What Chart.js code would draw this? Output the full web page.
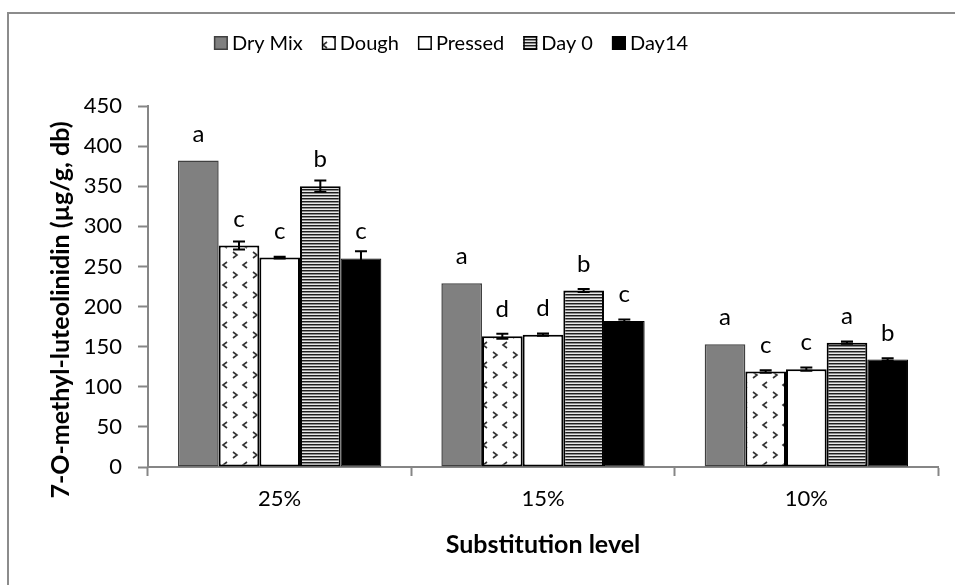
<!DOCTYPE html>
<html>
<head>
<meta charset="utf-8">
<script src="https://cdn.jsdelivr.net/npm/chart.js@4.4.1/dist/chart.umd.min.js"></script>
<style>
  html, body { margin: 0; padding: 0; background: #fff; }
  #wrap { width: 955px; height: 585px; position: relative; }
</style>
</head>
<body>
<div id="wrap"><canvas id="chart" width="955" height="585"></canvas></div>
<script>
// substitution levels on the x axis
const levels = ['25%', '15%', '10%'];
const seriesNames = ['Dry Mix', 'Dough', 'Pressed', 'Day 0', 'Day14'];

// 7-O-methyl-luteolinidin, µg/g db
const dryMix  = [382, 229, 153];
const dough   = [276, 163, 119];
const pressed = [261, 165, 122];
const day0    = [350, 220, 155];
const day14   = [260, 182, 134];

// standard deviations
const dryMixErr  = [0, 0, 0];
const doughErr   = [5, 3, 1.5];
const pressedErr = [1, 1.5, 2];
const day0Err    = [7, 2, 1.5];
const day14Err   = [9, 2, 1.5];

// significance letters
const dryMixSig  = ['a', 'a', 'a'];
const doughSig   = ['c', 'd', 'c'];
const pressedSig = ['c', 'd', 'c'];
const day0Sig    = ['b', 'b', 'a'];
const day14Sig   = ['c', 'c', 'b'];

const yTicks = [0, 50, 100, 150, 200, 250, 300, 350, 400, 450];

const FONT = 'Lato, "Open Sans", sans-serif';
const AXIS_GREY = '#868686';

// ---- fill patterns ----
function chevronPattern() {
  const c = document.createElement('canvas');
  c.width = 20; c.height = 20;
  const g = c.getContext('2d');
  g.fillStyle = '#fff';
  g.fillRect(0, 0, 20, 20);
  g.strokeStyle = '#333';
  g.lineWidth = 1.6;
  g.beginPath();
  g.moveTo(7, 2); g.lineTo(3, 5); g.lineTo(7, 8);      // "<"
  g.moveTo(13, 12); g.lineTo(17, 15); g.lineTo(13, 18); // ">"
  g.stroke();
  return g.createPattern(c, 'repeat');
}

function stripePattern() {
  const c = document.createElement('canvas');
  c.width = 4; c.height = 3;
  const g = c.getContext('2d');
  ['#1e1e1e', '#8a8a8a', '#e8e8e8'].forEach((col, i) => {
    g.fillStyle = col;
    g.fillRect(0, i, 4, 1);
  });
  return g.createPattern(c, 'repeat');
}

const styles = [
  { bg: '#808080', border: '#404040', width: 1.5 },
  { bg: chevronPattern(), border: '#000', width: 2 },
  { bg: '#ffffff', border: '#000', width: 2 },
  { bg: stripePattern(), border: '#000', width: 2 },
  { bg: '#000000', border: '#000', width: 1 }
];
const values  = [dryMix, dough, pressed, day0, day14];
const errors  = [dryMixErr, doughErr, pressedErr, day0Err, day14Err];
const letters = [dryMixSig, doughSig, pressedSig, day0Sig, day14Sig];

const datasets = seriesNames.map((name, i) => ({
  label: name,
  data: values[i],
  errors: errors[i],
  letters: letters[i],
  backgroundColor: styles[i].bg,
  borderColor: styles[i].border,
  borderWidth: styles[i].width,
  borderSkipped: false
}));

// ---- plugins ----
const frame = {
  id: 'frame',
  beforeDraw(chart) {
    const ctx = chart.ctx;
    ctx.save();
    ctx.fillStyle = '#fff';
    ctx.fillRect(0, 0, chart.width, chart.height);
    ctx.strokeStyle = '#8c8c8c';
    ctx.lineWidth = 2;
    ctx.beginPath();
    ctx.moveTo(8, chart.height);
    ctx.lineTo(8, 13);
    ctx.lineTo(chart.width, 13);
    ctx.stroke();
    ctx.restore();
  }
};

const errorBars = {
  id: 'errorBars',
  afterDatasetsDraw(chart) {
    const ctx = chart.ctx;
    const y = chart.scales.y;
    ctx.save();
    ctx.strokeStyle = '#000';
    ctx.lineWidth = 2;
    chart.data.datasets.forEach((ds, i) => {
      chart.getDatasetMeta(i).data.forEach((bar, j) => {
        const e = ds.errors[j];
        if (!e) return;
        const top = y.getPixelForValue(ds.data[j] + e);
        const bot = y.getPixelForValue(ds.data[j] - e);
        ctx.beginPath();
        ctx.moveTo(bar.x, top); ctx.lineTo(bar.x, bot);
        ctx.moveTo(bar.x - 6, top); ctx.lineTo(bar.x + 6, top);
        ctx.moveTo(bar.x - 6, bot); ctx.lineTo(bar.x + 6, bot);
        ctx.stroke();
      });
    });
    ctx.restore();
  }
};

const sigLetters = {
  id: 'sigLetters',
  afterDatasetsDraw(chart) {
    const ctx = chart.ctx;
    ctx.save();
    ctx.fillStyle = '#000';
    ctx.font = '24px ' + FONT;
    ctx.textAlign = 'center';
    ctx.textBaseline = 'alphabetic';
    chart.data.datasets.forEach((ds, i) => {
      chart.getDatasetMeta(i).data.forEach((bar, j) => {
        ctx.fillText(ds.letters[j], bar.x, bar.y - 19);
      });
    });
    ctx.restore();
  }
};

const legendRow = {
  id: 'legendRow',
  afterDraw(chart) {
    const ctx = chart.ctx;
    const box = 14, gap = 4, spacing = 19, cy = 43;
    ctx.save();
    ctx.font = '20px ' + FONT;
    ctx.textBaseline = 'middle';
    const widths = chart.data.datasets.map(ds => ctx.measureText(ds.label).width);
    const total = widths.reduce((a, w) => a + box + gap + w, 0) + spacing * (widths.length - 1);
    let x = 451 - total / 2;
    chart.data.datasets.forEach((ds, i) => {
      ctx.fillStyle = ds.backgroundColor;
      ctx.fillRect(x, cy - box / 2, box, box);
      ctx.strokeStyle = ds.borderColor;
      ctx.lineWidth = 1.5;
      ctx.strokeRect(x + 0.75, cy - box / 2 + 0.75, box - 1.5, box - 1.5);
      ctx.fillStyle = '#000';
      ctx.fillText(ds.label, x + box + gap, cy + 1);
      x += box + gap + widths[i] + spacing;
    });
    ctx.restore();
  }
};

const axisTitles = {
  id: 'axisTitles',
  afterDraw(chart) {
    const ctx = chart.ctx;
    const a = chart.chartArea;
    ctx.save();
    ctx.fillStyle = '#000';
    ctx.font = 'bold 25px ' + FONT;
    ctx.textAlign = 'center';
    ctx.textBaseline = 'middle';
    ctx.fillText('Substitution level', (a.left + a.right) / 2, 545);
    ctx.translate(61, 310);
    ctx.rotate(-Math.PI / 2);
    ctx.fillText('7-O-methyl-luteolinidin (\u00b5g/g, db)', 0, 0);
    ctx.restore();
  }
};

new Chart(document.getElementById('chart'), {
  type: 'bar',
  data: { labels: levels, datasets },
  options: {
    responsive: false,
    animation: false,
    devicePixelRatio: 1,
    layout: { padding: { left: 8, top: 106, right: 17, bottom: 0 } },
    datasets: { bar: { categoryPercentage: 0.772, barPercentage: 1 } },
    plugins: { legend: { display: false }, tooltip: { enabled: false } },
    scales: {
      x: {
        grid: { drawOnChartArea: false, tickLength: 9, tickColor: AXIS_GREY, tickWidth: 2, offset: true },
        border: { color: AXIS_GREY, width: 2 },
        ticks: { color: '#000', font: { family: FONT, size: 22 }, padding: 10 },
        afterFit(s) { s.height = 118; }
      },
      y: {
        min: 0,
        max: 450,
        afterBuildTicks(s) { s.ticks = yTicks.map(v => ({ value: v })); },
        grid: { drawOnChartArea: false, tickLength: 10, tickColor: AXIS_GREY, tickWidth: 2 },
        border: { color: AXIS_GREY, width: 2 },
        ticks: { color: '#000', font: { family: FONT, size: 22 }, padding: 16 },
        afterFit(s) { s.width = 140; }
      }
    }
  },
  plugins: [frame, errorBars, sigLetters, legendRow, axisTitles]
});
</script>
</body>
</html>
